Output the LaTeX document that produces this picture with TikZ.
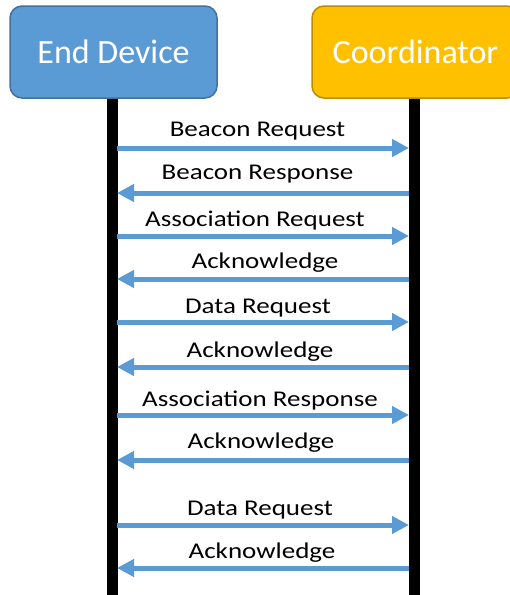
\documentclass[tikz,border=0pt]{standalone}
\usepackage{fontspec}
\setmainfont{Carlito}
\newfontfamily\lblfont[FakeStretch=1.2]{Carlito}
\usetikzlibrary{arrows.meta}
\definecolor{bluefill}{HTML}{5B9BD5}
\definecolor{blueline}{HTML}{41719C}
\definecolor{orangefill}{HTML}{FFC000}
\definecolor{orangeline}{HTML}{BC8C00}
\begin{document}
\begin{tikzpicture}[x=1pt,y=-1pt,
  actor/.style={draw, line width=1.5pt, rounded corners=12pt, minimum width=207pt, minimum height=92pt, text=white, font=\fontsize{34}{38}\selectfont, inner sep=0pt},
  life/.style={line width=11pt, black},
  msg/.style={draw=bluefill, line width=5pt, -{Triangle[length=17pt,width=17pt]}},
  lbl/.style={font=\lblfont\fontsize{22.5}{26}\selectfont, inner sep=0pt, anchor=base}]
\useasboundingbox (0,0) rectangle (510,595);
\clip (0,0) rectangle (510,595);
\node[actor, fill=bluefill, draw=blueline] (ed) at (113.5,52) {End Device};
\node[actor, fill=orangefill, draw=orangeline] (co) at (415.5,52) {Coordinator};
\coordinate (edb) at (112,600);
\coordinate (cob) at (414.5,600);
\draw[life] (ed.south -| edb) -- (edb);
\draw[life] (co.south -| cob) -- (cob);
% messages
\foreach \y/\dir/\txt/\tx/\ty in {
  148/r/Beacon Request/257.5/136,
  193/l/Beacon Response/257.5/179,
  236/r/Association Request/255/226,
  279/l/Acknowledge/265/268,
  322/r/Data Request/258/313,
  367/l/Acknowledge/260/357,
  415/r/Association Response/260/406,
  460/l/Acknowledge/261/448,
  525/r/Data Request/260/515,
  568/l/Acknowledge/262/558}{
  \coordinate (L) at (117,\y);
  \coordinate (R) at (409,\y);
  \if r\dir
    \draw[msg] (L) -- (R);
  \else
    \draw[msg] (R) -- (L);
  \fi
  \node[lbl] (t\y) at (\tx,\ty) {\txt};
}
\end{tikzpicture}
\end{document}
